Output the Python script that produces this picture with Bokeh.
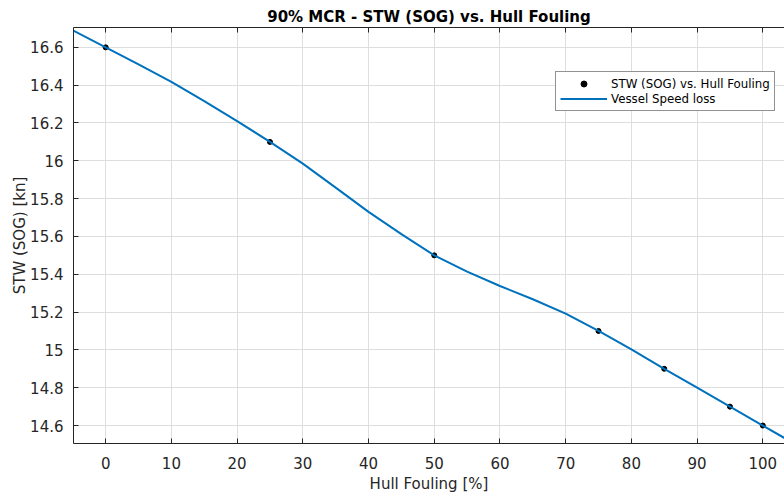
from bokeh.plotting import figure
from bokeh.models import FixedTicker, LinearAxis, CustomJSTickFormatter, Range1d
from bokeh.embed import file_html
from bokeh.resources import INLINE

# Measured points
fouling = [0, 25, 50, 75, 85, 95, 100]
stw = [16.6, 16.1, 15.5, 15.1, 14.9, 14.7, 14.6]

# Fitted speed-loss curve
curve_x = [-5, 0, 5, 10, 15, 20, 25, 30, 35, 40, 45, 50, 55, 60, 65, 70,
           75, 80, 85, 90, 95, 100, 104]
curve_y = [16.69, 16.60, 16.51, 16.418, 16.316, 16.21, 16.10, 15.985, 15.858,
           15.73, 15.612, 15.50, 15.414, 15.338, 15.268, 15.192, 15.10, 15.003,
           14.90, 14.80, 14.70, 14.60, 14.52]

x_ticks = [0, 10, 20, 30, 40, 50, 60, 70, 80, 90, 100]
y_ticks = [14.6, 14.8, 15.0, 15.2, 15.4, 15.6, 15.8, 16.0, 16.2, 16.4, 16.6]

FONT = "DejaVu Sans"
AX = "#262626"

p = figure(width=784, height=497, output_backend="svg", toolbar_location=None,
           x_range=Range1d(-4.9, 103.3), y_range=Range1d(14.505, 16.705),
           min_border_left=73, min_border_right=0, min_border_top=27,
           min_border_bottom=54, title="90% MCR - STW (SOG) vs. Hull Fouling")
p.outline_line_color = None
p.background_fill_color = "white"
p.border_fill_color = "white"

p.title.text_font = FONT
p.title.text_font_size = "15px"
p.title.text_font_style = "bold"
p.title.text_color = "black"
p.title.align = "center"
p.title.standoff = 3
p.title.offset = 6

for ax in (p.xaxis[0], p.yaxis[0]):
    ax.axis_line_color = AX
    ax.major_tick_line_color = AX
    ax.major_tick_in = 5
    ax.major_tick_out = 0
    ax.minor_tick_line_color = None
    ax.major_label_text_font = FONT
    ax.major_label_text_font_size = "15px"
    ax.major_label_text_color = AX
    ax.axis_label_text_font = FONT
    ax.axis_label_text_font_size = "15px"
    ax.axis_label_text_font_style = "normal"
    ax.axis_label_text_color = AX

p.xaxis.ticker = FixedTicker(ticks=x_ticks)
p.yaxis.ticker = FixedTicker(ticks=y_ticks)
p.yaxis.formatter = CustomJSTickFormatter(code="return parseFloat(tick.toFixed(2)).toString();")
p.xaxis.axis_label = "Hull Fouling [%]"
p.yaxis.axis_label = "STW (SOG) [kn]"
p.xaxis.major_label_standoff = 13
p.xaxis.axis_label_standoff = 3
p.yaxis.major_label_standoff = 10
p.yaxis.axis_label_standoff = -2

top = LinearAxis(ticker=FixedTicker(ticks=x_ticks))
top.axis_line_color = AX
top.major_tick_line_color = AX
top.major_tick_in = 5
top.major_tick_out = 0
top.minor_tick_line_color = None
top.formatter = CustomJSTickFormatter(code="return '';")
top.major_label_standoff = 0
p.add_layout(top, "above")

p.xgrid.ticker = FixedTicker(ticks=x_ticks)
p.ygrid.ticker = FixedTicker(ticks=y_ticks)
p.grid.grid_line_color = "#dedede"
p.grid.grid_line_width = 1

p.scatter(fouling, stw, size=5, color="black", legend_label="STW (SOG) vs. Hull Fouling")
p.line(curve_x, curve_y, line_width=2, color="#0072BD", legend_label="Vessel Speed loss")

lg = p.legend[0]
lg.location = (482, 332)
lg.label_text_font = FONT
lg.label_text_font_size = "11.8px"
lg.label_text_color = "black"
lg.glyph_width = 47
lg.glyph_height = 15
lg.label_height = 15
lg.label_standoff = 4
lg.padding = 4
lg.spacing = 0
lg.margin = 0
lg.border_line_color = AX
lg.border_line_width = 1
lg.background_fill_alpha = 1

open("out.html", "w").write(file_html(p, INLINE))
